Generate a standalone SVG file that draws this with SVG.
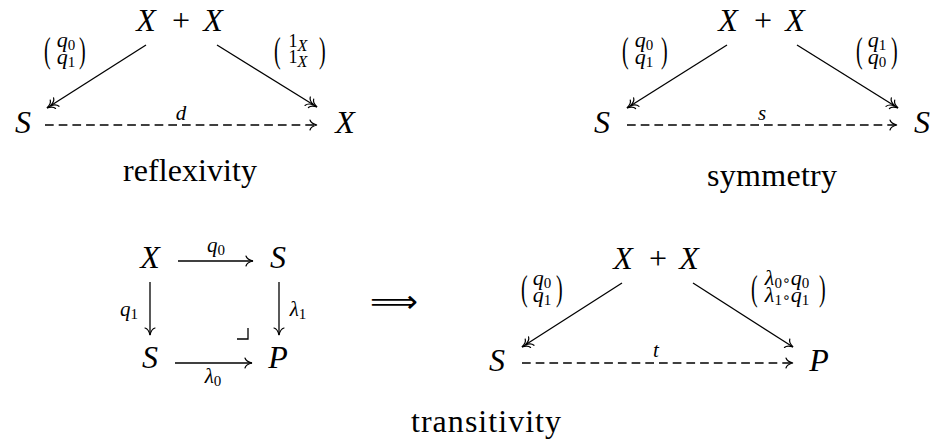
<svg xmlns="http://www.w3.org/2000/svg" width="933" height="446" viewBox="0 0 933 446" font-family="Liberation Serif, serif">
<style>
.big{font-family:"Liberation Serif",serif;font-style:italic;font-size:32px;text-anchor:middle;fill:#000}
.up{font-style:normal}
.cap{font-family:"Liberation Serif",serif;font-size:32px;text-anchor:middle;fill:#000}
.lb{font-family:"Liberation Serif",serif;font-style:italic;font-size:21px;text-anchor:middle;fill:#000}
.mx{font-family:"Liberation Serif",serif;font-style:italic;font-size:22px;text-anchor:middle;fill:#000}
.sub{font-style:normal;font-size:15px}
.par{font-family:"Liberation Serif",serif;font-size:20px;fill:#000}
.ln{fill:none;stroke:#000;stroke-width:1.3}
.da{stroke-dasharray:8.7 5}
.to{marker-end:url(#to)}
.epi{marker-end:url(#epi)}
</style>
<defs>
<marker id="to" markerUnits="userSpaceOnUse" orient="auto" markerWidth="20" markerHeight="20" viewBox="-10 -10 20 20" refX="0" refY="0" overflow="visible">
<path d="M-7,-5 C-6.3,-2.4 -2.6,-0.6 0,0 C-2.6,0.6 -6.3,2.4 -7,5" fill="none" stroke="#000" stroke-width="1.2" stroke-dasharray="none" stroke-linecap="round"/>
</marker>
<marker id="epi" markerUnits="userSpaceOnUse" orient="auto" markerWidth="24" markerHeight="20" viewBox="-14 -10 24 20" refX="0" refY="0" overflow="visible">
<path d="M-7,-5 C-6.3,-2.4 -2.6,-0.6 0,0 C-2.6,0.6 -6.3,2.4 -7,5 M-11,-5 C-10.3,-2.4 -6.6,-0.6 -4,0 C-6.6,0.6 -10.3,2.4 -11,5" fill="none" stroke="#000" stroke-width="1.2" stroke-linecap="round"/>
</marker>
</defs>

<!-- Reflexivity -->
<g id="r-top"><text class="big"><tspan x="146" y="31">X</tspan><tspan class="up" x="181" y="31">+</tspan><tspan x="213" y="31">X</tspan></text></g>
<g id="r-S"><text class="big" x="23" y="133">S</text></g>
<g id="r-X"><text class="big" x="345" y="133">X</text></g>
<g id="r-cap"><text class="cap" x="190" y="181" textLength="134" lengthAdjust="spacing">reflexivity</text></g>

<!-- Symmetry -->
<g id="s-top"><text class="big"><tspan x="728" y="31">X</tspan><tspan class="up" x="763" y="31">+</tspan><tspan x="795" y="31">X</tspan></text></g>
<g id="s-S1"><text class="big" x="602" y="133">S</text></g>
<g id="s-S2"><text class="big" x="922" y="133">S</text></g>
<g id="s-cap"><text class="cap" x="772" y="186" textLength="130" lengthAdjust="spacing">symmetry</text></g>

<!-- Square -->
<g id="sq-X"><text class="big" x="150" y="268">X</text></g>
<g id="sq-S1"><text class="big" x="278" y="268">S</text></g>
<g id="sq-S2"><text class="big" x="150" y="368">S</text></g>
<g id="sq-P"><text class="big" x="278" y="368">P</text></g>

<!-- implies -->
<g id="implies"><text x="394" y="312" font-family="DejaVu Sans, sans-serif" font-size="31" text-anchor="middle" textLength="48" lengthAdjust="spacingAndGlyphs">⟹</text></g>

<!-- Transitivity triangle -->
<g id="t-top"><text class="big"><tspan x="623" y="269">X</tspan><tspan class="up" x="658" y="269">+</tspan><tspan x="689" y="269">X</tspan></text></g>
<g id="t-S"><text class="big" x="497" y="371">S</text></g>
<g id="t-P"><text class="big" x="819" y="371">P</text></g>
<g id="t-cap"><text class="cap" x="486" y="432" textLength="150" lengthAdjust="spacing">transitivity</text></g>

<!-- Connectors -->
<g id="connectors">
<line class="ln epi" x1="146" y1="45" x2="47" y2="108"/>
<line class="ln epi" x1="217" y1="45" x2="317" y2="107"/>
<line class="ln da to" x1="45" y1="125" x2="317" y2="125"/>

<line class="ln epi" x1="727" y1="45" x2="627" y2="108"/>
<line class="ln epi" x1="797" y1="45" x2="898" y2="108"/>
<line class="ln da to" x1="627" y1="125" x2="897" y2="125"/>

<line class="ln to" x1="178" y1="261" x2="253" y2="261"/>
<line class="ln to" x1="175" y1="363" x2="252" y2="363"/>
<line class="ln to" x1="150" y1="282" x2="150" y2="335"/>
<line class="ln to" x1="279" y1="282" x2="279" y2="335"/>
<path class="ln" d="M237,339 H248 V328"/>

<line class="ln epi" x1="622" y1="283" x2="522" y2="347"/>
<line class="ln to" x1="693" y1="283" x2="793" y2="347"/>
<line class="ln da to" x1="522" y1="363" x2="793" y2="363"/>
</g>

<!-- Labels -->
<g id="labels">
<text class="lb" x="181" y="120">d</text>
<text class="lb" x="762" y="120">s</text>
<text class="lb" x="656" y="357">t</text>
<text class="lb" x="216" y="252">q<tspan class="sub" dy="3">0</tspan></text>
<text class="lb" x="129" y="316">q<tspan class="sub" dy="3">1</tspan></text>
<text class="lb" x="298" y="316">λ<tspan class="sub" dy="3">1</tspan></text>
<text class="lb" x="213" y="383">λ<tspan class="sub" dy="3">0</tspan></text>

<g id="r-m1">
<text class="par" transform="translate(44,62) scale(1,1.75)">(</text>
<text class="par" transform="translate(79,62) scale(1,1.75)">)</text>
<text class="mx" x="66" y="47">q<tspan class="sub" dy="3">0</tspan></text>
<text class="mx" x="66" y="64">q<tspan class="sub" dy="3">1</tspan></text>
</g>
<g id="r-m2">
<text class="par" transform="translate(274,62) scale(1,1.75)">(</text>
<text class="par" transform="translate(319,62) scale(1,1.75)">)</text>
<text class="mx" x="298" y="47"><tspan class="up" font-size="18">1</tspan><tspan font-size="16" dy="4">X</tspan></text>
<text class="mx" x="298" y="63"><tspan class="up" font-size="18">1</tspan><tspan font-size="16" dy="4">X</tspan></text>
</g>
<g id="s-m1">
<text class="par" transform="translate(622,62) scale(1,1.75)">(</text>
<text class="par" transform="translate(661,62) scale(1,1.75)">)</text>
<text class="mx" x="644" y="47">q<tspan class="sub" dy="3">0</tspan></text>
<text class="mx" x="644" y="64">q<tspan class="sub" dy="3">1</tspan></text>
</g>
<g id="s-m2">
<text class="par" transform="translate(856,62) scale(1,1.75)">(</text>
<text class="par" transform="translate(891,62) scale(1,1.75)">)</text>
<text class="mx" x="877" y="47">q<tspan class="sub" dy="3">1</tspan></text>
<text class="mx" x="877" y="64">q<tspan class="sub" dy="3">0</tspan></text>
</g>
<g id="t-m1">
<text class="par" transform="translate(521,300) scale(1,1.75)">(</text>
<text class="par" transform="translate(556,300) scale(1,1.75)">)</text>
<text class="mx" x="542" y="285">q<tspan class="sub" dy="3">0</tspan></text>
<text class="mx" x="542" y="302">q<tspan class="sub" dy="3">1</tspan></text>
</g>
<g id="t-m2">
<text class="par" transform="translate(751,300) scale(1,1.75)">(</text>
<text class="par" transform="translate(819,300) scale(1,1.75)">)</text>
<text class="mx" x="787" y="285">λ<tspan class="sub" dy="3">0</tspan><tspan class="up" dy="-3" font-family="DejaVu Sans, sans-serif" font-size="14">∘</tspan>q<tspan class="sub" dy="3">0</tspan></text>
<text class="mx" x="787" y="302">λ<tspan class="sub" dy="3">1</tspan><tspan class="up" dy="-3" font-family="DejaVu Sans, sans-serif" font-size="14">∘</tspan>q<tspan class="sub" dy="3">1</tspan></text>
</g>
</g>
</svg>
